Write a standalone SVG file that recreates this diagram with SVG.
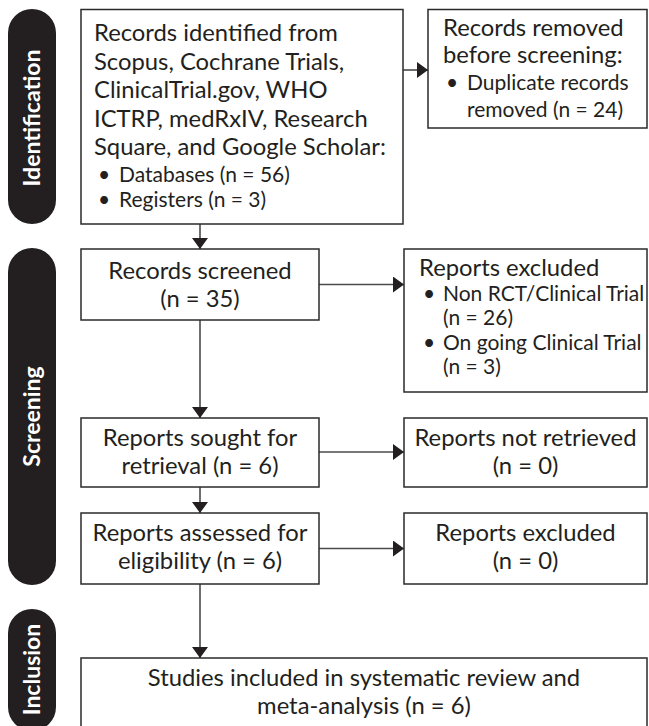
<svg xmlns="http://www.w3.org/2000/svg" width="649" height="726" viewBox="0 0 649 726">
<defs>
<marker id="ah" markerWidth="11" markerHeight="16" refX="11" refY="8" orient="auto" markerUnits="userSpaceOnUse">
<path d="M0,0 L11,8 L0,16 Z" fill="#231f20"/>
</marker>
<style>
.box{fill:#fff;stroke:#2a2a2a;stroke-width:1.5}
.pill{fill:#231f20}
.pl{font-family:Lato,"Liberation Sans",sans-serif;font-weight:bold;font-size:23px;fill:#fff;text-anchor:middle;dominant-baseline:central}
.t{font-family:Lato,"Liberation Sans",sans-serif;font-size:23.8px;fill:#231f20}
.s{font-size:21px}
.c{text-anchor:middle}
.ln{stroke:#4a4a4a;stroke-width:1.6;fill:none;marker-end:url(#ah)}
</style>
</defs>
<rect width="649" height="726" fill="#fff"/>
<g id="phase-identification">
<rect class="pill" x="8" y="9" width="48" height="215" rx="24"/>
<text class="pl" transform="translate(31,118) rotate(-90)">Identification</text>
</g>
<g id="phase-screening">
<rect class="pill" x="8" y="248" width="48" height="337" rx="24"/>
<text class="pl" transform="translate(31,416.5) rotate(-90)">Screening</text>
</g>
<g id="phase-inclusion">
<rect class="pill" x="8" y="609" width="48" height="122" rx="24"/>
<text class="pl" transform="translate(31,669.5) rotate(-90)">Inclusion</text>
</g>
<g id="connectors">
<line class="ln" x1="403" y1="70" x2="428" y2="70"/>
<line class="ln" x1="200" y1="224" x2="200" y2="249"/>
<line class="ln" x1="319" y1="284.5" x2="404" y2="284.5"/>
<line class="ln" x1="200" y1="320" x2="200" y2="418"/>
<line class="ln" x1="319" y1="452" x2="404" y2="452"/>
<line class="ln" x1="200" y1="487" x2="200" y2="513"/>
<line class="ln" x1="319" y1="548.5" x2="404" y2="548.5"/>
<line class="ln" x1="200" y1="584" x2="200" y2="658"/>
</g>
<g id="records-identified">
<rect class="box" x="81" y="9.5" width="322" height="214.5"/>
<text class="t">
<tspan x="94" y="41">Records identified from</tspan>
<tspan x="94" y="69.5">Scopus, Cochrane Trials,</tspan>
<tspan x="94" y="98">ClinicalTrial.gov, WHO</tspan>
<tspan x="94" y="126.5">ICTRP, medRxIV, Research</tspan>
<tspan x="94" y="155">Square, and Google Scholar:</tspan>
</text>
<text class="t s">
<tspan x="98" y="182">•</tspan><tspan x="119" y="182">Databases (n = 56)</tspan>
<tspan x="98" y="207">•</tspan><tspan x="119" y="207">Registers (n = 3)</tspan>
</text>
</g>
<g id="records-removed">
<rect class="box" x="428" y="9.5" width="219" height="118.5"/>
<text class="t">
<tspan x="443" y="36">Records removed</tspan>
<tspan x="443" y="63">before screening:</tspan>
</text>
<text class="t s">
<tspan x="446" y="90">•</tspan><tspan x="467" y="90">Duplicate records</tspan>
<tspan x="467" y="117">removed (n = 24)</tspan>
</text>
</g>
<g id="records-screened">
<rect class="box" x="81" y="249" width="238" height="71"/>
<text class="t c"><tspan x="200" y="279">Records screened</tspan><tspan x="200" y="307">(n = 35)</tspan></text>
</g>
<g id="reports-excluded-1">
<rect class="box" x="404" y="249" width="243" height="143"/>
<text class="t"><tspan x="419" y="276">Reports excluded</tspan></text>
<text class="t s">
<tspan x="423" y="301">•</tspan><tspan x="443" y="301">Non RCT/Clinical Trial</tspan>
<tspan x="443" y="325">(n = 26)</tspan>
<tspan x="423" y="350">•</tspan><tspan x="443" y="350">On going Clinical Trial</tspan>
<tspan x="443" y="374">(n = 3)</tspan>
</text>
</g>
<g id="reports-sought">
<rect class="box" x="81" y="418" width="238" height="69"/>
<text class="t c"><tspan x="200" y="446">Reports sought for</tspan><tspan x="200" y="474">retrieval (n = 6)</tspan></text>
</g>
<g id="reports-not-retrieved">
<rect class="box" x="404" y="418" width="243" height="69"/>
<text class="t c"><tspan x="525.5" y="446">Reports not retrieved</tspan><tspan x="525.5" y="474">(n = 0)</tspan></text>
</g>
<g id="reports-assessed">
<rect class="box" x="81" y="513" width="238" height="71"/>
<text class="t c"><tspan x="200" y="541">Reports assessed for</tspan><tspan x="200" y="569">eligibility (n = 6)</tspan></text>
</g>
<g id="reports-excluded-2">
<rect class="box" x="404" y="513" width="243" height="71"/>
<text class="t c"><tspan x="525.5" y="541">Reports excluded</tspan><tspan x="525.5" y="569">(n = 0)</tspan></text>
</g>
<g id="studies-included">
<rect class="box" x="81" y="658" width="566" height="80"/>
<text class="t c"><tspan x="364" y="686">Studies included in systematic review and</tspan><tspan x="364" y="714">meta-analysis (n = 6)</tspan></text>
</g>
</svg>
